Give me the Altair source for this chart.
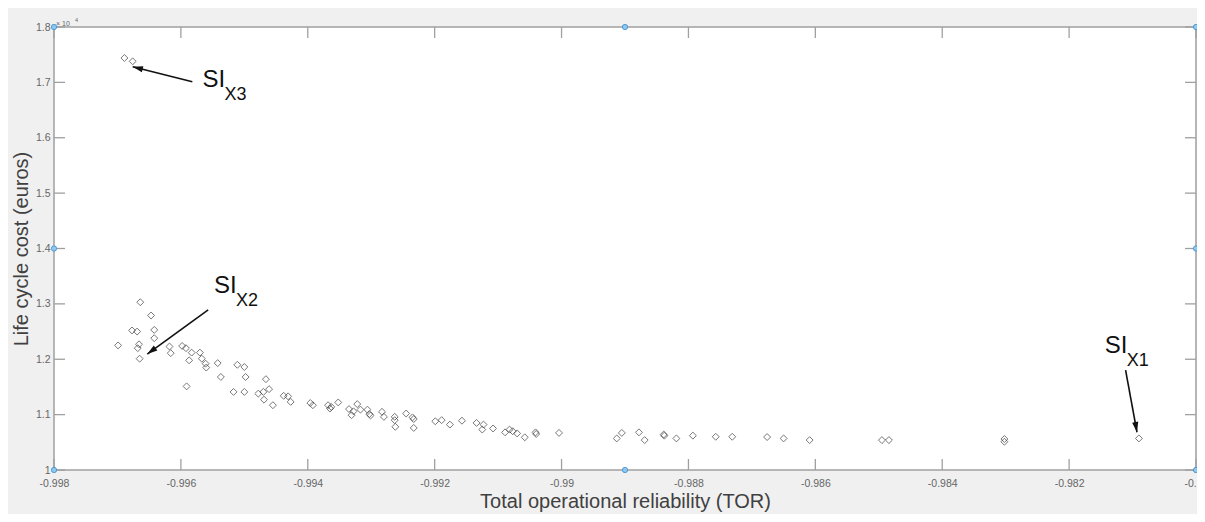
import altair as alt
import pandas as pd

# ---------------- data ----------------
tor = [-0.99689, -0.99676,
       -0.99699, -0.99664, -0.99647, -0.99677, -0.99669, -0.99642, -0.99642, -0.99666,
       -0.99668, -0.99665, -0.99618, -0.99616, -0.99598, -0.99592, -0.99583, -0.99587,
       -0.99570, -0.99567, -0.99561, -0.99560, -0.99542, -0.99537, -0.99591, -0.99511,
       -0.99500, -0.99498, -0.99517, -0.99500, -0.99466, -0.99478, -0.99470, -0.99469,
       -0.99461, -0.99455, -0.99438, -0.99431, -0.99427, -0.99396, -0.99392, -0.99368,
       -0.99365, -0.99363, -0.99352, -0.99335, -0.99331, -0.99328, -0.99322, -0.99317,
       -0.99306, -0.99303, -0.99301, -0.99283, -0.99280, -0.99263, -0.99263, -0.99262,
       -0.99245, -0.99235, -0.99233, -0.99233, -0.99199, -0.99189, -0.99176, -0.99157,
       -0.99134, -0.99123, -0.99125, -0.99108, -0.99089, -0.99082, -0.99077, -0.99070,
       -0.99058, -0.99041, -0.99040, -0.99004, -0.98913, -0.98905, -0.98878, -0.98869,
       -0.98839, -0.98838, -0.98819, -0.98793, -0.98757, -0.98731, -0.98676, -0.98650,
       -0.98609, -0.98495, -0.98484, -0.98302, -0.98302, -0.98090]
lcc = [17440, 17380,
       12250, 13030, 12790, 12520, 12500, 12530, 12380, 12270,
       12200, 12010, 12230, 12110, 12240, 12200, 12120, 11980,
       12120, 12010, 11920, 11850, 11930, 11680, 11510, 11900,
       11860, 11680, 11410, 11410, 11640, 11380, 11410, 11270,
       11460, 11170, 11340, 11330, 11230, 11210, 11170, 11170,
       11110, 11140, 11220, 11100, 10990, 11060, 11190, 11090,
       11090, 11010, 10985, 11050, 10960, 10960, 10900, 10780,
       11020, 10950, 10920, 10760, 10880, 10900, 10820, 10890,
       10850, 10820, 10730, 10750, 10680, 10730, 10700, 10660,
       10590, 10680, 10650, 10670, 10570, 10670, 10680, 10540,
       10640, 10620, 10570, 10620, 10600, 10600, 10595, 10570,
       10540, 10540, 10540, 10560, 10510, 10570]

x_ticks = [-0.998, -0.996, -0.994, -0.992, -0.99, -0.988, -0.986, -0.984, -0.982, -0.98]
y_ticks = [10000, 11000, 12000, 13000, 14000, 15000, 16000, 17000, 18000]
y_multiplier = ["\u00d7 10"]
y_multiplier_pow = ["4"]

# figure edit-mode handles
handle_x = [-0.998, -0.989, -0.98, -0.998, -0.98, -0.998, -0.989, -0.98]
handle_y = [18000, 18000, 18000, 14000, 14000, 10000, 10000, 10000]

# annotations
ann_sub = ["X3", "X2", "X1"]
ann_x = [-0.99566, -0.99548, -0.98144]
ann_y = [16920, 13194, 12105]
arrow_x0 = [-0.99582, -0.99557, -0.98111]
arrow_y0 = [17011, 12891, 11802]
arrow_x1 = [-0.99676, -0.99653, -0.98093]
arrow_y1 = [17283, 12093, 10682]
arrow_angle = [284, 234, 170]

# ---------------- chart ----------------
W, H = 1142, 443
FONT = "Liberation Sans"
xs = alt.Scale(domain=[-0.998, -0.98], nice=False, zero=False)
ys = alt.Scale(domain=[10000, 18000], nice=False, zero=False)

pts = pd.DataFrame({"tor": tor, "lcc": lcc})
xt = pd.DataFrame({"v": x_ticks})
yt = pd.DataFrame({"v": y_ticks})
hd = pd.DataFrame({"x": handle_x, "y": handle_y})
ann = pd.DataFrame({"sub": ann_sub, "x": ann_x, "y": ann_y})
arr = pd.DataFrame({"x0": arrow_x0, "y0": arrow_y0, "x1": arrow_x1, "y1": arrow_y1,
                    "a": arrow_angle})
mult = pd.DataFrame({"t": y_multiplier, "p": y_multiplier_pow})

x_axis = alt.Axis(values=x_ticks, domain=False, ticks=False, grid=False,
                  labelExpr="replace(format(datum.value, '.3~f'), '\u2212', '-')",
                  labelFont=FONT, labelFontSize=10.5, labelColor="#666666",
                  labelPadding=8, labelOverlap=False, labelFlush=False,
                  title="Total operational reliability (TOR)",
                  titleFont=FONT, titleFontSize=20, titleFontWeight="normal",
                  titleColor="#404040", titleBaseline="alphabetic", titleY=37)
y_axis = alt.Axis(values=y_ticks, domain=False, ticks=False, grid=False,
                  labelExpr="format(datum.value / 10000, '.1~f')",
                  labelFont=FONT, labelFontSize=10.5, labelColor="#666666",
                  labelPadding=4, labelOverlap=False, labelFlush=False,
                  title="Life cycle cost (euros)",
                  titleFont=FONT, titleFontSize=20, titleFontWeight="normal",
                  titleColor="#404040", titleX=-23)


def X(field):
    return alt.X(field, scale=xs, axis=x_axis)


def Y(field):
    return alt.Y(field, scale=ys, axis=y_axis)


points = alt.Chart(pts).mark_point(
    shape="diamond", filled=False, size=48, stroke="#2a2a2a", strokeWidth=0.9
).encode(x=X("tor:Q"), y=Y("lcc:Q"))

tick_style = dict(color="#a0a0a0", strokeWidth=1.3)
tick_top = alt.Chart(xt).mark_rule(**tick_style).encode(
    x=X("v:Q"), y=alt.value(0), y2=alt.value(11))
tick_bot = alt.Chart(xt).mark_rule(**tick_style).encode(
    x=X("v:Q"), y=alt.value(H), y2=alt.value(H - 11))
tick_left = alt.Chart(yt).mark_rule(**tick_style).encode(
    y=Y("v:Q"), x=alt.value(0), x2=alt.value(11))
tick_right = alt.Chart(yt).mark_rule(**tick_style).encode(
    y=Y("v:Q"), x=alt.value(W), x2=alt.value(W - 11))

exp_base = alt.Chart(mult).mark_text(
    font=FONT, fontSize=7, color="#666666", align="left", baseline="alphabetic"
).encode(x=alt.value(2), y=alt.value(-1), text="t:N")
exp_pow = alt.Chart(mult).mark_text(
    font=FONT, fontSize=5.5, color="#666666", align="left", baseline="alphabetic"
).encode(x=alt.value(21), y=alt.value(-5), text="p:N")

arrow_line = alt.Chart(arr).mark_rule(color="#111111", strokeWidth=1.6).encode(
    x=X("x0:Q"), y=Y("y0:Q"), x2="x1:Q", y2="y1:Q")
arrow_head = alt.Chart(arr).mark_point(
    shape="M0,0L-0.3,1L0.3,1Z", filled=True, color="#111111", size=420, opacity=1
).encode(x=X("x1:Q"), y=Y("y1:Q"), angle=alt.Angle("a:Q", scale=None))

si_text = alt.Chart(ann).mark_text(
    text="SI", font=FONT, fontSize=24, color="#111111", align="left", baseline="alphabetic"
).encode(x=X("x:Q"), y=Y("y:Q"))
sub_text = alt.Chart(ann).mark_text(
    font=FONT, fontSize=18, color="#111111", align="left", baseline="alphabetic", dx=22, dy=13
).encode(x=X("x:Q"), y=Y("y:Q"), text="sub:N")

handles = alt.Chart(hd).mark_point(
    shape="circle", filled=True, size=28, fill="#8ec8f0", stroke="#3d8fd0",
    strokeWidth=0.8, opacity=1
).encode(x=X("x:Q"), y=Y("y:Q"))

chart = alt.layer(
    points, tick_top, tick_bot, tick_left, tick_right,
    arrow_line, arrow_head, si_text, sub_text,
    exp_base, exp_pow, handles
).properties(
    width=W, height=H, background="#f0f0f0",
    padding={"left": 46, "top": 19, "right": 1, "bottom": 44},
    autosize=alt.AutoSizeParams(type="none"),
).configure_view(fill="white", stroke="#a0a0a0", strokeWidth=1.5)

chart.save("out.html", embed_options={"renderer": "svg", "actions": False})
